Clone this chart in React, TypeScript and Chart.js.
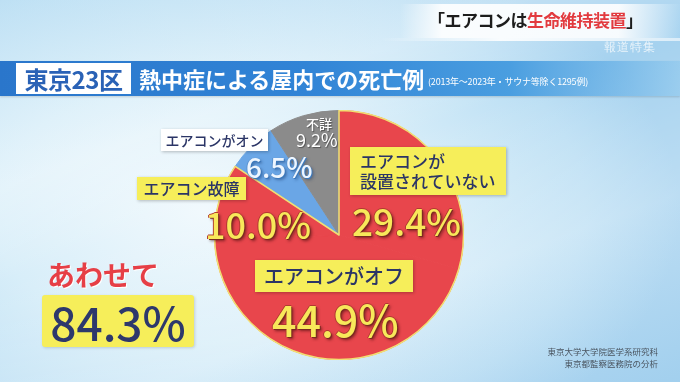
import React, { useEffect, useRef } from "react";
import { Chart, registerables } from "chart.js";

Chart.register(...registerables);

// ---- data ----
const categories = ["エアコンが設置されていない", "エアコンがオフ", "エアコン故障", "エアコンがオン", "不詳"];
const shares = [29.4, 44.9, 10.0, 6.5, 9.2];
const combinedIndices = [0, 1, 2];
const combinedLabel = "あわせて";
const headerPlace = "東京23区";
const headerTitle = "熱中症による屋内での死亡例";
const headerNote = "(2013年～2023年・サウナ等除く1295例)";
const captionPlain = "「エアコンは";
const captionRed = "生命維持装置";
const captionEnd = "」";
const programName = "報道特集";
const sourceLines = ["東京大学大学院医学系研究科", "東京都監察医務院の分析"];

// ---- styles ----
const sliceColors = ["#e8464c", "#e8464c", "#e8464c", "#6aa6e6", "#8b8b8b"];
const FONT = '"Noto Sans CJK JP", "Noto Sans", sans-serif';
const NAVY = "#2b3566";
const YELLOW_BOX = "#f6ee5a";

const fmt = (v: number) => v.toFixed(1) + "%";

const outlinePlugin = {
  id: "redOutline",
  afterDatasetsDraw(chart: any) {
    const meta = chart.getDatasetMeta(0);
    const first = meta.data[combinedIndices[0]];
    const last = meta.data[combinedIndices[combinedIndices.length - 1]];
    if (!first || !last) return;
    const ctx = chart.ctx;
    const { x, y, outerRadius } = first.getProps(["x", "y", "outerRadius"], true);
    const s = first.getProps(["startAngle"], true).startAngle;
    const e = last.getProps(["endAngle"], true).endAngle;
    ctx.save();
    ctx.strokeStyle = "#f2df72";
    ctx.lineWidth = 1.5;
    ctx.lineJoin = "round";
    ctx.beginPath();
    ctx.moveTo(x, y);
    ctx.arc(x, y, outerRadius, s, e);
    ctx.closePath();
    ctx.stroke();
    ctx.restore();
  },
};

function PieChart() {
  const ref = useRef<HTMLCanvasElement>(null);
  useEffect(() => {
    if (!ref.current) return;
    const chart = new Chart(ref.current, {
      type: "pie",
      data: {
        labels: categories,
        datasets: [
          {
            data: shares,
            backgroundColor: sliceColors,
            borderColor: sliceColors,
            borderWidth: 1,
          },
        ],
      },
      options: {
        responsive: false,
        maintainAspectRatio: false,
        animation: false,
        layout: { padding: 0 },
        plugins: { legend: { display: false }, tooltip: { enabled: false } },
      },
      plugins: [outlinePlugin],
    });
    return () => chart.destroy();
  }, []);
  return (
    <canvas
      ref={ref}
      width={250}
      height={250}
      style={{ position: "absolute", left: 214, top: 110, width: 250, height: 250 }}
    />
  );
}

const abs = (left: number, top: number, extra: React.CSSProperties = {}): React.CSSProperties => ({
  position: "absolute",
  left,
  top,
  fontFamily: FONT,
  whiteSpace: "nowrap",
  ...extra,
});

const yellowNum: React.CSSProperties = {
  color: "#f8e85a",
  fontWeight: 500,
  textShadow: "1px 1px 0 #7a2a20, -1px 0 0 #b03a30, 0 -1px 0 #b03a30, 2px 2px 3px rgba(60,10,10,0.6)",
  lineHeight: 1,
};

const boxStyle = (bg: string): React.CSSProperties => ({
  background: bg,
  color: NAVY,
  boxShadow: "1px 1px 3px rgba(0,0,0,0.25)",
  fontWeight: 500,
});

export default function App() {
  const combined = combinedIndices.reduce((a, i) => a + shares[i], 0);
  return (
    <div
      style={{
        position: "fixed",
        left: 0,
        top: 0,
        width: 680,
        height: 382,
        overflow: "hidden",
        background:
          "radial-gradient(ellipse 70% 75% at 30% 55%, #f1f9fd 0%, #d8eef9 45%, #bcdff4 80%, #a6d2ef 100%)",
      }}
    >
      {/* soft streaks */}
      <div
        style={{
          position: "absolute",
          left: 0,
          top: 0,
          width: 680,
          height: 382,
          background:
            "linear-gradient(160deg, rgba(200,230,245,0.4) 0%, rgba(255,255,255,0.3) 30%, rgba(255,255,255,0) 45%, rgba(255,255,255,0.25) 70%, rgba(150,200,235,0.25) 100%)",
        }}
      />

      {/* top caption */}
      <div
        style={{
          position: "absolute",
          left: 400,
          top: 4,
          width: 280,
          height: 34,
          background:
            "linear-gradient(90deg, rgba(255,255,255,0) 0%, rgba(255,255,255,0.9) 15%, rgba(255,255,255,0.9) 78%, rgba(180,220,245,0.2) 100%)",
        }}
      />
      <div
        style={{
          position: "absolute",
          left: 380,
          top: 38,
          width: 300,
          height: 3,
          background: "linear-gradient(90deg, rgba(255,255,255,0) 0%, rgba(255,255,255,0.9) 40%, rgba(255,255,255,0.6) 100%)",
        }}
      />
      <div style={abs(428, 8, { fontSize: 17, fontWeight: 700, color: "#1d1d1d", lineHeight: "24px", letterSpacing: -0.5 })}>
        {captionPlain}
        <span style={{ color: "#e23a3f" }}>{captionRed}</span>
        {captionEnd}
      </div>
      <div
        style={{
          position: "absolute",
          left: 604,
          top: 39,
          fontFamily: '"DejaVu Serif", serif',
          fontSize: 12,
          color: "rgba(255,255,255,0.75)",
          letterSpacing: 1,
        }}
      >
        {programName}
      </div>

      {/* header band */}
      <div
        style={{
          position: "absolute",
          left: 0,
          top: 61,
          width: 680,
          height: 35,
          background:
            "linear-gradient(90deg, #2a76cb 0%, #3184d6 45%, #4a9ee0 75%, rgba(120,190,235,0.35) 100%)",
          boxShadow: "0 1px 2px rgba(0,0,0,0.15)",
        }}
      />
      <div
        style={abs(16, 63, {
          width: 115,
          height: 31,
          background: "#ffffff",
          color: "#2a62b6",
          fontSize: 24,
          fontWeight: 700,
          lineHeight: "31px",
          textAlign: "center",
          letterSpacing: -0.5,
        })}
      >
        {headerPlace}
      </div>
      <div style={abs(139, 63, { color: "#ffffff", fontSize: 22, fontWeight: 700, lineHeight: "31px" })}>
        {headerTitle}
      </div>
      <div style={abs(428, 75, { color: "#ffffff", fontSize: 9, lineHeight: "14px", letterSpacing: -0.2 })}>
        {headerNote}
      </div>

      <PieChart />

      {/* labels */}
      <div
        style={abs(350, 147, {
          ...boxStyle(YELLOW_BOX),
          width: 156,
          height: 48,
          fontSize: 17,
          lineHeight: "20px",
          padding: "4px 0 0 10px",
          boxSizing: "border-box",
        })}
      >
        {categories[0].slice(0, 5)}
        <br />
        {categories[0].slice(5)}
      </div>
      <div style={abs(352, 202, { ...yellowNum, fontSize: 37 })}>{fmt(shares[0])}</div>

      <div
        style={abs(255, 260, {
          ...boxStyle(YELLOW_BOX),
          width: 158,
          height: 32,
          fontSize: 20,
          lineHeight: "32px",
          textAlign: "center",
        })}
      >
        {categories[1]}
      </div>
      <div style={abs(272, 297, { ...yellowNum, fontSize: 43 })}>{fmt(shares[1])}</div>

      <div
        style={abs(137, 177, {
          ...boxStyle(YELLOW_BOX),
          width: 109,
          height: 23,
          fontSize: 16,
          lineHeight: "23px",
          textAlign: "center",
        })}
      >
        {categories[2]}
      </div>
      <div style={abs(205, 205, { ...yellowNum, fontSize: 36 })}>{fmt(shares[2])}</div>

      <div
        style={abs(161, 129, {
          ...boxStyle("#ffffff"),
          width: 107,
          height: 22,
          fontSize: 14,
          lineHeight: "22px",
          textAlign: "center",
        })}
      >
        {categories[3]}
      </div>
      <div
        style={abs(246, 152, {
          color: "#eef6ff",
          fontSize: 28,
          fontWeight: 500,
          lineHeight: 1,
          textShadow: "1px 1px 0 #3b78bb, -1px 0 0 #5a92cf, 2px 2px 3px rgba(20,50,100,0.5)",
        })}
      >
        {fmt(shares[3])}
      </div>

      <div
        style={abs(306, 117, {
          color: "#ffffff",
          fontSize: 13,
          fontWeight: 500,
          lineHeight: 1,
          textShadow: "1px 1px 1px rgba(0,0,0,0.4)",
        })}
      >
        {categories[4]}
      </div>
      <div
        style={abs(296, 130, {
          color: "#ffffff",
          fontSize: 18,
          fontWeight: 400,
          lineHeight: 1,
          textShadow: "1px 1px 1px rgba(0,0,0,0.4)",
        })}
      >
        {fmt(shares[4])}
      </div>

      {/* combined */}
      <div
        style={abs(47, 257, {
          color: "#e63f46",
          fontSize: 28,
          fontWeight: 700,
          lineHeight: "34px",
          textShadow: "1px 1px 0 #ffffff",
        })}
      >
        {combinedLabel}
      </div>
      <div
        style={abs(42, 295, {
          background: YELLOW_BOX,
          width: 152,
          height: 52,
          borderRadius: 3,
          color: "#2d386c",
          fontSize: 46,
          fontWeight: 500,
          lineHeight: "52px",
          textAlign: "center",
          boxShadow: "1px 1px 3px rgba(0,0,0,0.15)",
        })}
      >
        {combined.toFixed(1) + "%"}
      </div>

      {/* source */}
      <div
        style={abs(500, 345, {
          width: 158,
          textAlign: "right",
          color: "#4a5560",
          fontSize: 8.5,
          lineHeight: "12px",
        })}
      >
        {sourceLines[0]}
        <br />
        {sourceLines[1]}
      </div>
    </div>
  );
}
